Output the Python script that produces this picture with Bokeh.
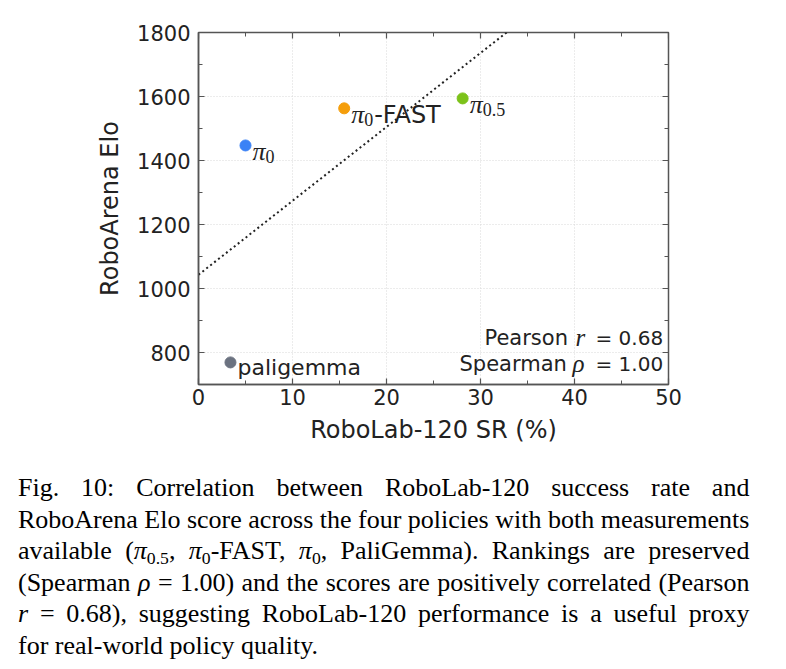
import numpy as np
from bokeh.plotting import figure
from bokeh.models import Label, SingleIntervalTicker, Div, Range1d, ColumnDataSource
from bokeh.layouts import column
from bokeh.core.properties import value
from bokeh.embed import file_html
from bokeh.resources import INLINE

# ---------------- data ----------------
policies = ["paligemma", "pi0", "pi0-FAST", "pi0.5"]
robolab_sr = [3.4, 5.0, 15.5, 28.1]
roboarena_elo = [769, 1447, 1563, 1594]
dot_colors = ["#6b7280", "#3b82f6", "#f59e0b", "#7cc21a"]
label_greek = ["", "π", "π", "π"]
label_sub = ["", "0", "0", "0.5"]
label_suffix = ["paligemma", "", "-FAST", ""]
x_ticks = [0, 10, 20, 30, 40, 50]
y_ticks = [800, 1000, 1200, 1400, 1600, 1800]
pearson_r = "0.68"
spearman_rho = "1.00"

SANS = "DejaVu Sans"
SERIF = "Liberation Serif"
TXT = "#222222"
AX = "#555555"

p = figure(width=786, height=460, x_range=Range1d(0, 50), y_range=Range1d(700, 1800),
           output_backend="svg", toolbar_location=None,
           min_border_left=198, min_border_right=118, min_border_top=32, min_border_bottom=76,
           x_axis_label="RoboLab-120 SR (%)", y_axis_label="RoboArena Elo")
p.outline_line_color = AX
p.outline_line_width = 1.5
p.background_fill_color = "white"
p.border_fill_color = "white"

xt = SingleIntervalTicker(interval=10, num_minor_ticks=2)
yt = SingleIntervalTicker(interval=200, num_minor_ticks=2)
bottom_ax = p.below[0]
left_ax = p.left[0]
bottom_ax.ticker = xt
left_ax.ticker = yt
p.xgrid.ticker = xt
p.ygrid.ticker = yt
for g in (p.xgrid, p.ygrid):
    g.grid_line_color = "#d9d9d9"
    g.grid_line_dash = "1 2"
    g.grid_line_width = 1

for ax in [bottom_ax, left_ax]:
    ax.axis_line_color = AX
    ax.axis_line_width = 1.5
    ax.major_tick_line_color = AX
    ax.minor_tick_line_color = AX
    ax.major_tick_line_width = 1.2
    ax.minor_tick_line_width = 1
    ax.major_tick_in = 6
    ax.major_tick_out = 0
    ax.minor_tick_in = 4
    ax.minor_tick_out = 0
    ax.major_label_text_font = SANS
    ax.major_label_text_color = TXT
    ax.major_label_text_font_size = "21px"
    ax.axis_label_text_font = SANS
    ax.axis_label_text_color = TXT
    ax.axis_label_text_font_style = "normal"
    ax.axis_label_text_font_size = "24px"

bottom_ax.major_label_standoff = 4
left_ax.major_label_standoff = 8
bottom_ax.axis_label_standoff = 8
left_ax.axis_label_standoff = 10

# mirrored inward ticks on top and right edges (markers centred on the frame edge, clipped)
x_minor = [(a + b) / 2 for a, b in zip(x_ticks[:-1], x_ticks[1:])]
y_minor = [(a + b) / 2 for a, b in zip(y_ticks[:-1], y_ticks[1:])]
y_top = p.y_range.end
x_right = p.x_range.end
p.scatter(x=x_ticks, y=[y_top] * len(x_ticks), marker="dash", angle=np.pi / 2, size=12,
          line_color=AX, line_width=1.2)
p.scatter(x=x_minor, y=[y_top] * len(x_minor), marker="dash", angle=np.pi / 2, size=8,
          line_color=AX, line_width=1)
p.scatter(x=[x_right] * len(y_ticks), y=y_ticks, marker="dash", size=12,
          line_color=AX, line_width=1.2)
p.scatter(x=[x_right] * len(y_minor), y=y_minor, marker="dash", size=8,
          line_color=AX, line_width=1)

# fit line through the four points
slope, intercept = np.polyfit(robolab_sr, roboarena_elo, 1)
fx = [0, 50]
fy = [intercept + slope * v for v in fx]
p.line(fx, fy, line_color="#222222", line_width=2, line_dash="2 3")

src = ColumnDataSource(dict(x=robolab_sr, y=roboarena_elo, c=dot_colors))
p.scatter("x", "y", source=src, size=11, fill_color="c", line_color="c")

pi_idx = [i for i, g in enumerate(label_greek) if g]
plain_idx = [i for i, g in enumerate(label_greek) if not g]

def sub_src(idx):
    return ColumnDataSource(dict(x=[robolab_sr[i] for i in idx], y=[roboarena_elo[i] for i in idx],
                                 g=[label_greek[i] for i in idx], s=[label_sub[i] for i in idx],
                                 t=[label_suffix[i] for i in idx]))

s_pi = sub_src(pi_idx)
s_plain = sub_src(plain_idx)

p.text("x", "y", text="g", source=s_pi, text_font=value(SERIF), text_font_style="italic",
       text_font_size="26px", text_color=TXT, text_baseline="alphabetic", x_offset=7, y_offset=6)
p.text("x", "y", text="s", source=s_pi, text_font=value(SERIF), text_font_size="18px",
       text_color=TXT, text_baseline="alphabetic", x_offset=20, y_offset=11)
p.text("x", "y", text="t", source=s_pi, text_font=value(SANS), text_font_size="24px",
       text_color=TXT, text_baseline="alphabetic", x_offset=30, y_offset=7)
p.text("x", "y", text="t", source=s_plain, text_font=value(SANS), text_font_size="22px",
       text_color=TXT, text_baseline="alphabetic", x_offset=7, y_offset=5)

# correlation annotation (screen units, from frame bottom-left)
def lab(x, y, text, font=SANS, style="normal", size="21px"):
    p.add_layout(Label(x=x, y=y, x_units="screen", y_units="screen", text=text,
                       text_font=font, text_font_style=style, text_font_size=size,
                       text_color=TXT, text_baseline="alphabetic", text_align="left"))

lab(286, 47, "Pearson")
lab(377, 47, "r", font=SERIF, style="italic", size="25px")
lab(397, 47, "= " + pearson_r, size="20px")
lab(261, 21, "Spearman")
lab(374, 21, "ρ", font=SERIF, style="italic", size="25px")
lab(397, 21, "= " + spearman_rho, size="20px")

cap_lines = [
    "Fig. 10: Correlation between RoboLab-120 success rate and",
    "RoboArena Elo score across the four policies with both measurements",
    "available (<i>π</i><sub>0.5</sub>, <i>π</i><sub>0</sub>-FAST, <i>π</i><sub>0</sub>, PaliGemma). Rankings are preserved",
    "(Spearman <i>ρ</i> = 1.00) and the scores are positively correlated (Pearson",
    "<i>r</i> = 0.68), suggesting RoboLab-120 performance is a useful proxy",
    "for real-world policy quality.",
]
sub_style = "font-size:0.68em;line-height:0;vertical-align:-0.28em;"
html = []
for i, ln in enumerate(cap_lines):
    ln = ln.replace("<sub>", f"<sub style='{sub_style}'>")
    align = "justify" if i < len(cap_lines) - 1 else "left"
    html.append(f"<div style='text-align:justify;text-align-last:{align};height:31.6px;line-height:31.6px;white-space:normal;'>{ln}</div>")
caption = Div(text="".join(html), width=754, height=200, margin=(12, 14, 0, 18),
              styles={"font-family": "'Liberation Serif', 'Times New Roman', serif",
                      "font-size": "26px", "color": "#000"})

layout = column(p, caption, spacing=0)
open("out.html", "w").write(file_html(layout, INLINE))
